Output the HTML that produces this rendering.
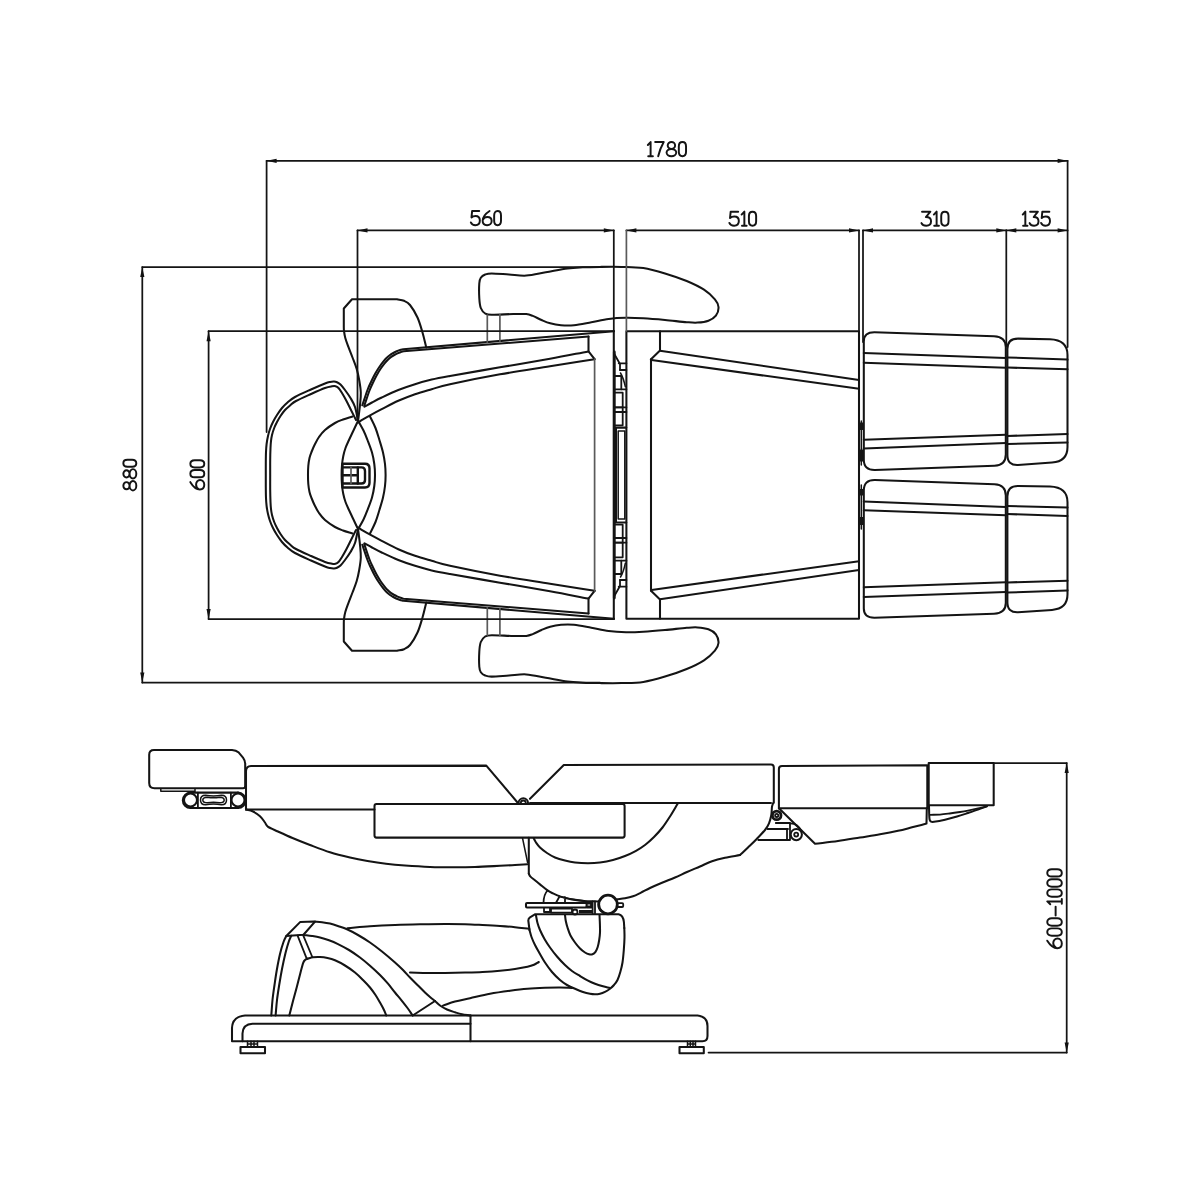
<!DOCTYPE html>
<html><head><meta charset="utf-8"><title>Chair dimensions</title>
<style>
html,body{margin:0;padding:0;background:#fff;}
body{width:1200px;height:1200px;overflow:hidden;font-family:"Liberation Sans",sans-serif;}
svg{display:block}
.l path{fill:none;stroke:#141414;stroke-width:2.05;stroke-linecap:round;stroke-linejoin:round}
.l path.t{stroke-width:1.5}
.l path.d{stroke-width:1.75}
.l path.g{stroke:#5a5a5a;stroke-width:1.7}
.l path.m{stroke-width:1.8}
.l path.k2{stroke-width:2.4}
.l path.kk2{stroke-width:3.2;stroke-linecap:butt}
.l path.k{stroke-width:2.8}
.l path.kk{stroke-width:3.6;stroke-linecap:butt}
.l path.a{fill:#111;stroke:none}
.tx path{fill:none;stroke:#141414;stroke-width:1.95;stroke-linecap:round;stroke-linejoin:round;vector-effect:non-scaling-stroke}
</style></head><body>
<svg width="1200" height="1200" viewBox="0 0 1200 1200">
<rect width="1200" height="1200" fill="#fff"/>
<g class="l">
<path d="M358 420.8 C357 416.2 356.25 410.8 355 407 C353.75 403.2 352.17 400.83 350.5 398 C348.83 395.17 346.67 392.25 345 390 C343.33 387.75 341.83 385.8 340.5 384.5 C339.17 383.2 338.08 382.7 337 382.2 C335.92 381.7 335.17 381.55 334 381.5 C332.83 381.45 331.5 381.57 330 381.9 C328.5 382.23 328.17 382.23 325 383.5 C321.83 384.77 316 387.25 311 389.5 C306 391.75 298.92 394.83 295 397 C291.08 399.17 289.67 400.67 287.5 402.5 C285.33 404.33 283.75 405.92 282 408 C280.25 410.08 278.5 412.67 277 415 C275.5 417.33 274.17 419.67 273 422 C271.83 424.33 270.83 426.67 270 429 C269.17 431.33 268.57 433.5 268 436 C267.43 438.5 266.93 441.33 266.6 444 C266.27 446.67 266.13 448.83 266 452 C265.87 455.17 265.83 459.17 265.8 463 C265.77 466.83 265.8 471 265.8 475 C265.8 479 265.77 483.17 265.8 487 C265.83 490.83 265.87 494.83 266 498 C266.13 501.17 266.27 503.33 266.6 506 C266.93 508.67 267.43 511.5 268 514 C268.57 516.5 269.17 518.67 270 521 C270.83 523.33 271.83 525.67 273 528 C274.17 530.33 275.5 532.67 277 535 C278.5 537.33 280.25 539.92 282 542 C283.75 544.08 285.33 545.67 287.5 547.5 C289.67 549.33 291.08 550.83 295 553 C298.92 555.17 306 558.25 311 560.5 C316 562.75 321.83 565.23 325 566.5 C328.17 567.77 328.5 567.77 330 568.1 C331.5 568.43 332.83 568.55 334 568.5 C335.17 568.45 335.92 568.3 337 567.8 C338.08 567.3 339.17 566.8 340.5 565.5 C341.83 564.2 343.33 562.25 345 560 C346.67 557.75 348.83 554.83 350.5 552 C352.17 549.17 353.75 546.8 355 543 C356.25 539.2 357 533.8 358 529.2"/>
<path d="M356 420 C354.33 416.67 352.58 413.17 351 410 C349.42 406.83 348 403.83 346.5 401 C345 398.17 343.33 395.17 342 393 C340.67 390.83 339.58 389.13 338.5 388 C337.42 386.87 336.58 386.48 335.5 386.2 C334.42 385.92 333.75 386 332 386.3 C330.25 386.6 328.5 386.72 325 388 C321.5 389.28 315.83 391.83 311 394 C306.17 396.17 299.5 399.08 296 401 C292.5 402.92 291.83 404 290 405.5 C288.17 407 286.58 408.25 285 410 C283.42 411.75 281.83 414 280.5 416 C279.17 418 278.05 420 277 422 C275.95 424 275.03 425.83 274.2 428 C273.37 430.17 272.53 432.83 272 435 C271.47 437.17 271.25 438.83 271 441 C270.75 443.17 270.63 444.83 270.5 448 C270.37 451.17 270.25 455.5 270.2 460 C270.15 464.5 270.2 470 270.2 475 C270.2 480 270.15 485.5 270.2 490 C270.25 494.5 270.37 498.83 270.5 502 C270.63 505.17 270.75 506.83 271 509 C271.25 511.17 271.47 512.83 272 515 C272.53 517.17 273.37 519.83 274.2 522 C275.03 524.17 275.95 526 277 528 C278.05 530 279.17 532 280.5 534 C281.83 536 283.42 538.25 285 540 C286.58 541.75 288.17 543 290 544.5 C291.83 546 292.5 547.08 296 549 C299.5 550.92 306.17 553.83 311 556 C315.83 558.17 321.5 560.72 325 562 C328.5 563.28 330.25 563.4 332 563.7 C333.75 564 334.42 564.08 335.5 563.8 C336.58 563.52 337.42 563.13 338.5 562 C339.58 560.87 340.67 559.17 342 557 C343.33 554.83 345 551.83 346.5 549 C348 546.17 349.42 543.17 351 540 C352.58 536.83 354.33 533.33 356 530"/>
<path d="M352.5 416.5 C349.33 417.5 345.92 418.42 343 419.5 C340.08 420.58 338 421.25 335 423 C332 424.75 327.67 427.67 325 430 C322.33 432.33 320.67 434.67 319 437 C317.33 439.33 316.25 441.5 315 444 C313.75 446.5 312.42 449.67 311.5 452 C310.58 454.33 310.03 455.67 309.5 458 C308.97 460.33 308.55 463.17 308.3 466 C308.05 468.83 308 472 308 475 C308 478 308.05 481.17 308.3 484 C308.55 486.83 308.97 489.67 309.5 492 C310.03 494.33 310.58 495.67 311.5 498 C312.42 500.33 313.75 503.5 315 506 C316.25 508.5 317.33 510.67 319 513 C320.67 515.33 322.33 517.67 325 520 C327.67 522.33 332 525.25 335 527 C338 528.75 340.08 529.42 343 530.5 C345.92 531.58 349.33 532.5 352.5 533.5"/>
<path d="M358 421 C356.33 424.5 354.5 428.33 353 431.5 C351.5 434.67 350.25 437.25 349 440 C347.75 442.75 346.45 445.33 345.5 448 C344.55 450.67 343.88 453.17 343.3 456 C342.72 458.83 342.28 461.83 342 465 C341.72 468.17 341.6 471.67 341.6 475 C341.6 478.33 341.72 481.83 342 485 C342.28 488.17 342.72 491.17 343.3 494 C343.88 496.83 344.55 499.33 345.5 502 C346.45 504.67 347.75 507.25 349 510 C350.25 512.75 351.5 515.33 353 518.5 C354.5 521.67 356.33 525.5 358 529"/>
<path d="M358 420.6 C359.83 423.9 361.92 427.27 363.5 430.5 C365.08 433.73 366.08 436.33 367.5 440 C368.92 443.67 370.87 448.5 372 452.5 C373.13 456.5 373.8 460.25 374.3 464 C374.8 467.75 375 471.33 375 475 C375 478.67 374.8 482.25 374.3 486 C373.8 489.75 373.13 493.5 372 497.5 C370.87 501.5 368.92 506.33 367.5 510 C366.08 513.67 365.08 516.27 363.5 519.5 C361.92 522.73 359.83 526.1 358 529.4"/>
<path d="M370 416.5 C371.83 420.33 373.93 424.08 375.5 428 C377.07 431.92 378.15 435.92 379.4 440 C380.65 444.08 382.07 448.5 383 452.5 C383.93 456.5 384.57 460.25 385 464 C385.43 467.75 385.6 471.33 385.6 475 C385.6 478.67 385.43 482.25 385 486 C384.57 489.75 383.93 493.5 383 497.5 C382.07 501.5 380.65 505.92 379.4 510 C378.15 514.08 377.07 518.08 375.5 522 C373.93 525.92 371.83 529.67 370 533.5"/>
<path d="M342.5 463.8 H365 Q369.5 463.8 369.5 468.5 V482.8 Q369.5 487.5 365 487.5 H342.5 Z" class="k2"/>
<path d="M342.5 467.4 H361.5 Q365 467.4 365 470.9 V480 Q365 483.5 361.5 483.5 H342.5" class="k2"/>
<path d="M357.8 467.4 V483.5 M342.5 475.3 H357.8" class="k2"/>
<path d="M351 467.4 V483.5" class="g"/>
<path d="M358 421.5 C358.67 416 359.53 409.83 360 405 C360.47 400.17 360.93 396.67 360.8 392.5 C360.67 388.33 359.88 383.92 359.2 380 C358.52 376.08 357.82 372.75 356.7 369 C355.58 365.25 353.9 361.22 352.5 357.5 C351.1 353.78 349.5 349.95 348.3 346.7 C347.1 343.45 346.02 340.62 345.3 338 C344.58 335.38 344.25 332.83 344 331 C343.75 329.17 343.87 328.33 343.8 327 L343.8 308.5 L352 299.3 L397 299.3 C399.33 299.8 401.83 299.85 404 300.8 C406.17 301.75 407.75 302.22 410 305 C412.25 307.78 415.42 312.92 417.5 317.5 C419.58 322.08 421.03 327.5 422.5 332.5 C423.97 337.5 425.03 342.5 426.3 347.5"/>
<path d="M358 528.5 C358.67 534 359.53 540.17 360 545 C360.47 549.83 360.93 553.33 360.8 557.5 C360.67 561.67 359.88 566.08 359.2 570 C358.52 573.92 357.82 577.25 356.7 581 C355.58 584.75 353.9 588.78 352.5 592.5 C351.1 596.22 349.5 600.05 348.3 603.3 C347.1 606.55 346.02 609.38 345.3 612 C344.58 614.62 344.25 617.17 344 619 C343.75 620.83 343.87 621.67 343.8 623 L343.8 641.5 L352 650.7 L397 650.7 C399.33 650.2 401.83 650.15 404 649.2 C406.17 648.25 407.75 647.78 410 645 C412.25 642.22 415.42 637.08 417.5 632.5 C419.58 627.92 421.03 622.5 422.5 617.5 C423.97 612.5 425.03 607.5 426.3 602.5"/>
<path d="M362.3 405.3 C364.03 400.2 366.05 393.88 367.5 390 C368.95 386.12 369.75 384.67 371 382 C372.25 379.33 373.67 376.42 375 374 C376.33 371.58 377.62 369.55 379 367.5 C380.38 365.45 382.05 363.28 383.3 361.7 C384.55 360.12 385.38 359.12 386.5 358 C387.62 356.88 388.87 355.83 390 355 C391.13 354.17 392.18 353.62 393.3 353 C394.42 352.38 395.58 351.78 396.7 351.3 C397.82 350.82 398.9 350.45 400 350.1 C401.1 349.75 402.2 349.5 403.3 349.2 L614 331.3"/>
<path d="M362.3 544.7 C364.03 549.8 366.05 556.12 367.5 560 C368.95 563.88 369.75 565.33 371 568 C372.25 570.67 373.67 573.58 375 576 C376.33 578.42 377.62 580.45 379 582.5 C380.38 584.55 382.05 586.72 383.3 588.3 C384.55 589.88 385.38 590.88 386.5 592 C387.62 593.12 388.87 594.17 390 595 C391.13 595.83 392.18 596.38 393.3 597 C394.42 597.62 395.58 598.22 396.7 598.7 C397.82 599.18 398.9 599.55 400 599.9 C401.1 600.25 402.2 600.5 403.3 600.8 L614 618.7"/>
<path d="M364.3 405.8 C365.97 400.87 367.88 394.8 369.3 391 C370.72 387.2 371.57 385.63 372.8 383 C374.03 380.37 375.4 377.57 376.7 375.2 C378 372.83 379.25 370.8 380.6 368.8 C381.95 366.8 383.58 364.72 384.8 363.2 C386.02 361.68 386.83 360.75 387.9 359.7 C388.97 358.65 390.13 357.68 391.2 356.9 C392.27 356.12 393.25 355.58 394.3 355 C395.35 354.42 396.45 353.87 397.5 353.4 C398.55 352.93 399.58 352.55 400.6 352.2 C401.62 351.85 402.6 351.6 403.6 351.3 L588.5 336.6"/>
<path d="M364.3 544.2 C365.97 549.13 367.88 555.2 369.3 559 C370.72 562.8 371.57 564.37 372.8 567 C374.03 569.63 375.4 572.43 376.7 574.8 C378 577.17 379.25 579.2 380.6 581.2 C381.95 583.2 383.58 585.28 384.8 586.8 C386.02 588.32 386.83 589.25 387.9 590.3 C388.97 591.35 390.13 592.32 391.2 593.1 C392.27 593.88 393.25 594.42 394.3 595 C395.35 595.58 396.45 596.13 397.5 596.6 C398.55 597.07 399.58 597.45 400.6 597.8 C401.62 598.15 402.6 598.4 403.6 598.7 L588.5 613.4"/>
<path d="M364.5 406.7 C367 405.3 369.13 404.03 372 402.5 C374.87 400.97 377.32 399.58 381.7 397.5 C386.08 395.42 392.75 392.22 398.3 390 C403.85 387.78 409.43 385.93 415 384.2 C420.57 382.47 425.87 380.97 431.7 379.6 C437.53 378.23 438.62 378.05 450 376 C461.38 373.95 483.33 370.18 500 367.3 C516.67 364.42 535.25 361.35 550 358.7 C564.75 356.05 575.67 353.83 588.5 351.4"/>
<path d="M364.5 543.3 C367 544.7 369.13 545.97 372 547.5 C374.87 549.03 377.32 550.42 381.7 552.5 C386.08 554.58 392.75 557.78 398.3 560 C403.85 562.22 409.43 564.07 415 565.8 C420.57 567.53 425.87 569.03 431.7 570.4 C437.53 571.77 438.62 571.95 450 574 C461.38 576.05 483.33 579.82 500 582.7 C516.67 585.58 535.25 588.65 550 591.3 C564.75 593.95 575.67 596.17 588.5 598.6"/>
<path d="M358.3 422.3 C359.87 421.3 361.18 420.38 363 419.3 C364.82 418.22 366.08 417.48 369.2 415.8 C372.32 414.12 376.85 411.7 381.7 409.2 C386.55 406.7 392.75 403.3 398.3 400.8 C403.85 398.3 409.43 396.13 415 394.2 C420.57 392.27 425.87 390.87 431.7 389.2 C437.53 387.53 438.62 386.68 450 384.2 C461.38 381.72 483.33 377.28 500 374.3 C516.67 371.32 534.23 368.82 550 366.3 C565.77 363.78 579.73 361.57 594.6 359.2"/>
<path d="M358.3 527.7 C359.87 528.7 361.18 529.62 363 530.7 C364.82 531.78 366.08 532.52 369.2 534.2 C372.32 535.88 376.85 538.3 381.7 540.8 C386.55 543.3 392.75 546.7 398.3 549.2 C403.85 551.7 409.43 553.87 415 555.8 C420.57 557.73 425.87 559.13 431.7 560.8 C437.53 562.47 438.62 563.32 450 565.8 C461.38 568.28 483.33 572.72 500 575.7 C516.67 578.68 534.23 581.18 550 583.7 C565.77 586.22 579.73 588.43 594.6 590.8"/>
<path d="M588.5 336.6 L588.5 351.4 L594.6 359.2"/>
<path d="M588.5 613.4 L588.5 598.6 L594.6 590.8"/>
<path d="M594.6 359.2 L594.6 590.8" class="g"/>
<path d="M613.8 331.2 L613.8 618.8"/>
<path d="M600 266.9 C606.5 266.83 614.48 266.72 621.7 266.9 C628.92 267.08 636.08 266.92 643.3 268 C650.52 269.08 657.77 271.23 665 273.4 C672.23 275.57 680.2 278.28 686.7 281 C693.2 283.72 699.3 286.63 704 289.7 C708.7 292.77 712.48 296.52 714.9 299.4 C717.32 302.28 718.33 304.28 718.5 307 C718.67 309.72 717.58 313.42 715.9 315.7 C714.22 317.98 711.47 319.55 708.4 320.7 C705.33 321.85 701.12 322.35 697.5 322.6 C693.88 322.85 692.12 322.63 686.7 322.2 C681.28 321.77 672.23 320.65 665 320 C657.77 319.35 649.8 318.67 643.3 318.3 C636.8 317.93 631.77 317.7 626 317.8 C620.23 317.9 614.48 318.17 608.7 318.9 C602.92 319.63 597.08 321.15 591.3 322.2 C585.52 323.25 579.05 324.7 574 325.2 C568.95 325.7 564.97 325.52 561 325.2 C557.03 324.88 553.45 324.17 550.2 323.3 C546.95 322.43 544.4 321.23 541.5 320 C538.6 318.77 535.33 316.88 532.8 315.9 C530.27 314.92 529.55 314.42 526.3 314.1 C523.05 313.78 519.07 313.88 513.3 314 C507.53 314.12 496.38 314.88 491.7 314.8 C487.02 314.72 487.02 314.63 485.2 313.5 C483.38 312.37 481.78 310.53 480.8 308 C479.82 305.47 479.55 302.43 479.3 298.3 C479.05 294.17 479.05 286.62 479.3 283.2 C479.55 279.78 479.82 279.25 480.8 277.8 C481.78 276.35 483.38 275.23 485.2 274.5 C487.02 273.77 487.73 273.4 491.7 273.4 C495.67 273.4 503.23 274.13 509 274.5 C514.77 274.87 520.17 275.97 526.3 275.6 C532.43 275.23 538.93 273.5 545.8 272.3 C552.67 271.1 561.35 269.23 567.5 268.4 C573.65 267.57 577.28 267.55 582.7 267.3 C588.12 267.05 593.5 266.97 600 266.9 Z"/>
<path d="M600 683.1 C606.5 683.17 614.48 683.28 621.7 683.1 C628.92 682.92 636.08 683.08 643.3 682 C650.52 680.92 657.77 678.77 665 676.6 C672.23 674.43 680.2 671.72 686.7 669 C693.2 666.28 699.3 663.37 704 660.3 C708.7 657.23 712.48 653.48 714.9 650.6 C717.32 647.72 718.33 645.72 718.5 643 C718.67 640.28 717.58 636.58 715.9 634.3 C714.22 632.02 711.47 630.45 708.4 629.3 C705.33 628.15 701.12 627.65 697.5 627.4 C693.88 627.15 692.12 627.37 686.7 627.8 C681.28 628.23 672.23 629.35 665 630 C657.77 630.65 649.8 631.33 643.3 631.7 C636.8 632.07 631.77 632.3 626 632.2 C620.23 632.1 614.48 631.83 608.7 631.1 C602.92 630.37 597.08 628.85 591.3 627.8 C585.52 626.75 579.05 625.3 574 624.8 C568.95 624.3 564.97 624.48 561 624.8 C557.03 625.12 553.45 625.83 550.2 626.7 C546.95 627.57 544.4 628.77 541.5 630 C538.6 631.23 535.33 633.12 532.8 634.1 C530.27 635.08 529.55 635.58 526.3 635.9 C523.05 636.22 519.07 636.12 513.3 636 C507.53 635.88 496.38 635.12 491.7 635.2 C487.02 635.28 487.02 635.37 485.2 636.5 C483.38 637.63 481.78 639.47 480.8 642 C479.82 644.53 479.55 647.57 479.3 651.7 C479.05 655.83 479.05 663.38 479.3 666.8 C479.55 670.22 479.82 670.75 480.8 672.2 C481.78 673.65 483.38 674.77 485.2 675.5 C487.02 676.23 487.73 676.6 491.7 676.6 C495.67 676.6 503.23 675.87 509 675.5 C514.77 675.13 520.17 674.03 526.3 674.4 C532.43 674.77 538.93 676.5 545.8 677.7 C552.67 678.9 561.35 680.77 567.5 681.6 C573.65 682.43 577.28 682.45 582.7 682.7 C588.12 682.95 593.5 683.03 600 683.1 Z"/>
<path d="M487.3 315 L487.3 342.5" class="g"/>
<path d="M487.3 635 L487.3 607.5" class="g"/>
<path d="M499.9 314.5 L499.9 341.5" class="g"/>
<path d="M499.9 635.5 L499.9 608.5" class="g"/>
<path d="M626.4 331.2 L859 331.2 L859 618.8 L626.4 618.8 L626.4 331.2"/>
<path d="M660 331.2 L660 350.6 L651 359.3"/>
<path d="M660 618.8 L660 599.4 L651 590.7"/>
<path d="M651 359.3 L651 590.7"/>
<path d="M660 350.8 L859 380"/>
<path d="M660 599.2 L859 570"/>
<path d="M651.5 360 L859 388.8"/>
<path d="M651.5 590 L859 561.2"/>
<path d="M615.4 427.6 V522.4" class="kk2"/>
<path d="M614.7 427.6 H626.3 M614.7 522.4 H626.3"/>
<path d="M618.2 431 H624.8 V519 H618.2 Z" class="t"/>
<path d="M614.3 352 L614.3 598" class="k"/>
<path d="M614.3 354 L620 364 V370" class="m"/>
<path d="M 614.3 596 L 620 586 V 580" class="m"/>
<path d="M618.7 363.3 H626.4 M620 370 H626.4" class="m"/>
<path d="M 618.7 586.7 H 626.4 M 620 580 H 626.4" class="m"/>
<path d="M620.5 373 Q623.5 378 625.3 386.7" class="t"/>
<path d="M620.5 577 Q623.5 572 625.3 563.3" class="t"/>
<path d="M614.7 376 H621.3 V389.3" class="m"/>
<path d="M 614.7 574 H 621.3 V 560.7" class="m"/>
<path d="M614.7 389.3 H626.4" class="m"/>
<path d="M 614.7 560.7 H 626.4" class="m"/>
<path d="M614.7 392.7 H622.7 V407.3 H614.7" class="m"/>
<path d="M 614.7 557.3 H 622.7 V 542.7 H 614.7" class="m"/>
<path d="M614.7 407.3 H626.4 M614.7 412 H626.4" class="m"/>
<path d="M 614.7 542.7 H 626.4 M 614.7 538 H 626.4" class="m"/>
<path d="M614.7 412 H622.7 V425.3 H614.7 M622.7 407.3 V412" class="m"/>
<path d="M 614.7 538 H 622.7 V 524.7 H 614.7 M 622.7 542.7 V 538" class="m"/>
<path d="M863.8 341.5 Q863.8 332.2 874.5 332.3 L994 336.2 Q1005.8 336.8 1005.8 347 L1005.8 454.5 Q1005.8 465.2 994.5 465.8 L875 470 Q863.8 470.3 863.8 459.5 Z"/>
<path d="M 863.8 608.5 Q 863.8 617.8 874.5 617.7 L 994 613.8 Q 1005.8 613.2 1005.8 603 L 1005.8 495.5 Q 1005.8 484.8 994.5 484.2 L 875 480 Q 863.8 479.7 863.8 490.5 Z"/>
<path d="M1007.4 349 Q1007.4 338.6 1018 338.6 L1050 339.3 Q1067.5 340 1067.5 355 L1067.5 447 Q1067.5 461.5 1052 462.6 L1018 465 Q1007.4 465.5 1007.4 455 Z"/>
<path d="M 1007.4 496.3 Q 1007.4 485.9 1018 485.9 L 1050 486.6 Q 1067.5 487.3 1067.5 502.3 L 1067.5 594.3 Q 1067.5 608.8 1052 609.9 L 1018 612.3 Q 1007.4 612.8 1007.4 602.3 Z"/>
<path d="M863.8 353 L1005.8 358"/>
<path d="M863.8 597 L1005.8 592"/>
<path d="M863.8 362.8 L1005.8 367.8"/>
<path d="M863.8 587.2 L1005.8 582.2"/>
<path d="M863.8 439.8 L1005.8 434.8"/>
<path d="M863.8 510.2 L1005.8 515.2"/>
<path d="M863.8 448.4 L1005.8 443"/>
<path d="M863.8 501.6 L1005.8 507"/>
<path d="M1007.4 357.4 L1067.5 359.6"/>
<path d="M1007.4 592.6 L1067.5 590.4"/>
<path d="M1007.4 367.6 L1067.5 369.3"/>
<path d="M1007.4 582.4 L1067.5 580.7"/>
<path d="M1007.4 436 L1067.5 434"/>
<path d="M1007.4 514 L1067.5 516"/>
<path d="M1007.4 444 L1067.5 442.6"/>
<path d="M1007.4 506 L1067.5 507.4"/>
<path d="M861.3 421 L861.3 465" class="t"/>
<path d="M861.3 529 L861.3 485" class="t"/>
<path d="M861.2 422.5 L861.2 430" class="kk"/>
<path d="M861.2 449.5 L861.2 461.5" class="kk"/>
<path d="M861.2 489 L861.2 495.5" class="kk"/>
<path d="M861.2 517 L861.2 525" class="kk"/>
<path d="M154 749.9 H232 Q236 750 238.8 752.6 L243 757.6 Q245.2 760.4 245.2 764 V786 Q245.2 788.2 243 788.2 H154.5 Q149.2 788.2 149.2 783 V754.7 Q149.2 749.9 154 749.9 Z"/>
<path d="M160.8 789 V791.3 H195 M195 789 V792.6" class="t"/>
<path d="M197.9 792.6 V808 M230.9 792.6 V808" class="m"/>
<path d="M207.5 797.2 Q213.5 798.4 219.5 797.2 Q224.2 797.2 224.2 800 Q224.2 802.8 219.5 802.8 Q213.5 801.6 207.5 802.8 Q202.8 802.8 202.8 800 Q202.8 797.2 207.5 797.2 Z" class="t"/>
<path d="M190.5 792.6 H238 M190.5 808 H238"/>
<path d="M190.5 792.6 A7.7 7.7 0 0 0 190.5 808 M238 792.6 A7.7 7.7 0 0 1 238 808"/>
<path d="M197 800 A6.5 6.5 0 1 1 184 800 A6.5 6.5 0 1 1 197 800 Z"/>
<path d="M244.5 800 A6.5 6.5 0 1 1 231.5 800 A6.5 6.5 0 1 1 244.5 800 Z"/>
<path d="M205.5 795.2 Q213.5 796.6 221.5 795.2 Q226.5 795.2 226.5 800 Q226.5 804.8 221.5 804.8 Q213.5 803.4 205.5 804.8 Q200.5 804.8 200.5 800 Q200.5 795.2 205.5 795.2 Z" class="t"/>
<path d="M246 809.4 V771 Q246.3 766.2 251 766 L486.3 765.6 L517.5 802.5"/>
<path d="M246 809.4 H374.5"/>
<path d="M246 809.6 C248.17 810.17 250.17 810.2 252.5 811.3 C254.83 812.4 257.92 814.33 260 816.2 C262.08 818.07 263.7 820.77 265 822.5 C266.3 824.23 265.63 825.1 267.8 826.6 C269.97 828.1 273.88 829.6 278 831.5 C282.12 833.4 287.17 835.75 292.5 838 C297.83 840.25 303.75 842.62 310 845 C316.25 847.38 323.33 850.22 330 852.3 C336.67 854.38 343.75 856.05 350 857.5 C356.25 858.95 361.5 859.95 367.5 861 C373.5 862.05 379.75 863.03 386 863.8 C392.25 864.57 397.67 865.07 405 865.6 C412.33 866.13 421.67 866.72 430 867 C438.33 867.28 447.5 867.3 455 867.3 C462.5 867.3 467.5 867.25 475 867 C482.5 866.75 493.33 866.13 500 865.8 C506.67 865.47 510.42 865.25 515 865 C519.58 864.75 523.33 864.53 527.5 864.3"/>
<path d="M530 798.8 L563.8 765 L771 764.5 Q773.8 764.5 773.8 767.5 V802.8"/>
<path d="M530 803 H771"/>
<path d="M518.6 803 A4.7 4.7 0 0 1 528 803"/>
<path d="M520.8 803 A2.5 2.5 0 0 1 525.8 803" class="m"/>
<path d="M376.5 804 H622.5 Q624.6 804 624.6 806 V835.5 Q624.6 837.6 622.5 837.6 H376.5 Q374.5 837.6 374.5 835.5 V806 Q374.5 804 376.5 804 Z"/>
<path d="M522.5 838 L527.6 862.5" class="t"/>
<path d="M528.8 837.8 V873.8"/>
<path d="M528.8 873.8 C529.37 874.73 529.47 875.52 530.5 876.6 C531.53 877.68 533.42 879 535 880.3 C536.58 881.6 537.92 882.72 540 884.4 C542.08 886.08 545.33 888.9 547.5 890.4 C549.67 891.9 550.92 892.4 553 893.4 C555.08 894.4 557.72 895.58 560 896.4 C562.28 897.22 564.7 897.78 566.7 898.3 C568.7 898.82 569.12 899.05 572 899.5 C574.88 899.95 579.58 900.68 584 901 C588.42 901.32 593.67 901.27 598.5 901.4"/>
<path d="M617 899.3 C619.67 898.97 622.33 898.8 625 898.3 C627.67 897.8 630.33 897.25 633 896.3 C635.67 895.35 638.17 893.98 641 892.6 C643.83 891.22 646.5 889.65 650 888 C653.5 886.35 657.83 884.45 662 882.7 C666.17 880.95 670.83 879.28 675 877.5 C679.17 875.72 682.83 873.83 687 872 C691.17 870.17 695.83 868.28 700 866.5 C704.17 864.72 707.83 862.75 712 861.3 C716.17 859.85 720.33 858.85 725 857.8 C729.67 856.75 735 855.93 740 855"/>
<path d="M773.2 803 C772.8 804.23 772.32 804.7 772 806.7 C771.68 808.7 771.8 812.23 771.3 815 C770.8 817.77 770.05 820.8 769 823.3 C767.95 825.8 767.05 827.38 765 830 C762.95 832.62 759.53 836.08 756.7 839 C753.87 841.92 750.78 844.83 748 847.5 C745.22 850.17 742.67 852.5 740 855"/>
<path d="M533.8 838.5 C534.53 839.83 534.97 841 536 842.5 C537.03 844 538.17 845.75 540 847.5 C541.83 849.25 544.5 851.33 547 853 C549.5 854.67 552 856.23 555 857.5 C558 858.77 561.67 859.77 565 860.6 C568.33 861.43 571.17 862.07 575 862.5 C578.83 862.93 583.83 863.2 588 863.2 C592.17 863.2 595.83 863.03 600 862.5 C604.17 861.97 608.83 861.08 613 860 C617.17 858.92 621.17 857.53 625 856 C628.83 854.47 632.67 852.63 636 850.8 C639.33 848.97 642 847.3 645 845 C648 842.7 651.08 839.92 654 837 C656.92 834.08 659.83 830.92 662.5 827.5 C665.17 824.08 667.45 820.5 670 816.5 C672.55 812.5 675.2 807.83 677.8 803.5"/>
<path d="M527 903 H585.7 Q586.6 903 586.6 904 V906.5 Q586.6 907.5 585.7 907.5 H527 Q526 907.5 526 906.5 V904 Q526 903 527 903 Z"/>
<path d="M617.3 904.5 A9.3 9.3 0 1 1 598.7 904.5 A9.3 9.3 0 1 1 617.3 904.5 Z" class="k"/>
<path d="M601.3 898.3 A8.6 8.6 0 0 0 601.6 911" class="m"/>
<path d="M617.3 903.2 H622.2 Q623.2 903.2 623.2 904.2 V906 Q623.2 907 622.2 907 H617.3" class="m"/>
<path d="M544 908 V912 H550 V908 M551 908.6 H572 V912.6 H551 Z" class="m"/>
<path d="M577.5 912 A2.5 2.5 0 1 1 572.5 912 A2.5 2.5 0 1 1 577.5 912 Z" class="m"/>
<path d="M579 911.6 H592" class="kk2"/>
<path d="M592.6 901.5 V913.6 M595 901.5 V913.6" class="m"/>
<path d="M587 903 H591.5 V907 H587" class="k"/>
<path d="M547.5 890.5 Q543.7 894.5 543.5 902.8 M559.5 896.5 L556 902.8 M565 897.2 V902.8 M559.5 896.5 Q572 899.6 584 901" class="m"/>
<path d="M529.5 930 C530.17 932.33 530.58 934.5 531.5 937 C532.42 939.5 533.58 942.17 535 945 C536.42 947.83 538.33 951.08 540 954 C541.67 956.92 543 959.5 545 962.5 C547 965.5 549.5 969.08 552 972 C554.5 974.92 557.5 977.83 560 980 C562.5 982.17 564.5 983.53 567 985 C569.5 986.47 572.33 987.63 575 988.8 C577.67 989.97 580.5 991.17 583 992 C585.5 992.83 588 993.42 590 993.8 C592 994.18 593.33 994.32 595 994.3 C596.67 994.28 598.33 994.12 600 993.7 C601.67 993.28 603.33 992.63 605 991.8 C606.67 990.97 608.5 989.83 610 988.7 C611.5 987.57 612.75 986.45 614 985 C615.25 983.55 616.45 982.17 617.5 980 C618.55 977.83 619.47 974.92 620.3 972 C621.13 969.08 621.92 966.17 622.5 962.5 C623.08 958.83 623.47 954.17 623.8 950 C624.13 945.83 624.42 941.17 624.5 937.5 C624.58 933.83 624.37 931.17 624.3 928"/>
<path d="M529.5 930 L528.3 920.5 Q528.3 918.4 530 917.3 L535.3 914.2 H618.6 Q623.3 915.3 623.9 922 L624.3 928"/>
<path d="M536 915.5 C536.5 918 536.83 920.58 537.5 923 C538.17 925.42 538.83 927.33 540 930 C541.17 932.67 542.83 936.08 544.5 939 C546.17 941.92 547.92 944.58 550 947.5 C552.08 950.42 554.5 953.58 557 956.5 C559.5 959.42 562.5 962.58 565 965 C567.5 967.42 569.5 969.17 572 971 C574.5 972.83 577.42 974.45 580 976 C582.58 977.55 585 979.02 587.5 980.3 C590 981.58 592.42 982.7 595 983.7 C597.58 984.7 600.5 985.58 603 986.3 C605.5 987.02 607.67 987.43 610 988"/>
<path d="M565 915 C565.27 917 565.38 918.92 565.8 921 C566.22 923.08 566.72 925.08 567.5 927.5 C568.28 929.92 569.25 933 570.5 935.5 C571.75 938 573.42 940.33 575 942.5 C576.58 944.67 578.33 946.83 580 948.5 C581.67 950.17 583.5 951.53 585 952.5 C586.5 953.47 587.75 954 589 954.3 C590.25 954.6 591.42 954.72 592.5 954.3 C593.58 953.88 594.63 953.02 595.5 951.8 C596.37 950.58 597.08 948.97 597.7 947 C598.32 945.03 598.82 942.42 599.2 940 C599.58 937.58 599.88 935.17 600 932.5 C600.12 929.83 599.98 926.92 599.9 924 C599.82 921.08 599.63 918 599.5 915"/>
<path d="M347.5 928.2 C355 927.57 362.08 926.83 370 926.3 C377.92 925.77 386.67 925.33 395 925 C403.33 924.67 411.67 924.47 420 924.3 C428.33 924.13 437.5 924.02 445 924 C452.5 923.98 458.75 924.03 465 924.2 C471.25 924.37 476.67 924.7 482.5 925 C488.33 925.3 494.58 925.63 500 926 C505.42 926.37 510.12 926.73 515 927.2 C519.88 927.67 524.53 928.27 529.3 928.8"/>
<path d="M410 972.6 C416 972.73 422.17 972.93 428 973 C433.83 973.07 438.83 973.07 445 973 C451.17 972.93 458.75 972.77 465 972.6 C471.25 972.43 476.67 972.3 482.5 972 C488.33 971.7 494.58 971.3 500 970.8 C505.42 970.3 510.42 969.67 515 969 C519.58 968.33 524.33 967.5 527.5 966.8 C530.67 966.1 532.12 965.6 534 964.8 C535.88 964 537.2 962.93 538.8 962"/>
<path d="M435 1001 C436.67 1002.5 438 1004.08 440 1005.5 C442 1006.92 444.5 1008.37 447 1009.5 C449.5 1010.63 452.5 1011.5 455 1012.3 C457.5 1013.1 459.42 1013.77 462 1014.3 C464.58 1014.83 467.67 1015.1 470.5 1015.5"/>
<path d="M443 1005.6 C447 1004.23 450.5 1002.73 455 1001.5 C459.5 1000.27 464.17 999.48 470 998.2 C475.83 996.92 483.33 995.03 490 993.8 C496.67 992.57 503.75 991.63 510 990.8 C516.25 989.97 521.67 989.3 527.5 988.8 C533.33 988.3 539.58 988.02 545 987.8 C550.42 987.58 555.5 987.47 560 987.5 C564.5 987.53 568 987.83 572 988"/>
<path d="M271.3 1015.5 C271.7 1010.33 271.97 1005.08 272.5 1000 C273.03 994.92 273.78 990 274.5 985 C275.22 980 275.88 975.17 276.8 970 C277.72 964.83 278.88 958.67 280 954 C281.12 949.33 282.45 945 283.5 942 C284.55 939 285.37 938 286.3 936 L300.3 921.9 L314 921.5 C316.67 921.73 319.33 921.85 322 922.2 C324.67 922.55 327.25 922.93 330 923.6 C332.75 924.27 335.67 925.25 338.5 926.2 C341.33 927.15 343.75 927.83 347 929.3 C350.25 930.77 354.17 932.8 358 935 C361.83 937.2 366 939.75 370 942.5 C374 945.25 377.83 948.17 382 951.5 C386.17 954.83 391.5 959.42 395 962.5 C398.5 965.58 400.5 967.5 403 970 C405.5 972.5 407.5 974.92 410 977.5 C412.5 980.08 415.5 983 418 985.5 C420.5 988 423 990.58 425 992.5 C427 994.42 428.33 995.58 430 997 C431.67 998.42 433.33 999.67 435 1001"/>
<path d="M275.6 1015.5 C276.07 1010.33 276.4 1005.08 277 1000 C277.6 994.92 278.37 990.17 279.2 985 C280.03 979.83 280.95 974.33 282 969 C283.05 963.67 284.37 957.58 285.5 953 C286.63 948.42 287.85 944.37 288.8 941.5 C289.75 938.63 290.4 937.7 291.2 935.8"/>
<path d="M286.3 936 L303.5 934.7 L315 921.6"/>
<path d="M289.3 1015.5 C290.53 1010.67 291.75 1005.75 293 1001 C294.25 996.25 295.57 991.67 296.8 987 C298.03 982.33 299.33 977.03 300.4 973 C301.47 968.97 302.38 965 303.2 962.8 C304.02 960.6 304.55 960.5 305.3 959.8 C306.05 959.1 306.9 959 307.7 958.6"/>
<path d="M297.6 935.7 L306.8 958.8 M303 934.8 L312.3 957" class="m"/>
<path d="M307.5 958.8 C309.33 958.3 310.92 957.6 313 957.3 C315.08 957 317.58 956.88 320 957 C322.42 957.12 325 957.45 327.5 958 C330 958.55 332.08 959.05 335 960.3 C337.92 961.55 341.67 963.47 345 965.5 C348.33 967.53 352 970.08 355 972.5 C358 974.92 360.5 977.5 363 980 C365.5 982.5 367.92 985 370 987.5 C372.08 990 373.83 992.5 375.5 995 C377.17 997.5 378.67 1000.17 380 1002.5 C381.33 1004.83 382.45 1006.83 383.5 1009 C384.55 1011.17 385.37 1013.33 386.3 1015.5"/>
<path d="M303.8 935 C306.53 935.33 309.3 935.58 312 936 C314.7 936.42 317.17 936.78 320 937.5 C322.83 938.22 326.08 939.25 329 940.3 C331.92 941.35 334.17 942.18 337.5 943.8 C340.83 945.42 345.25 947.72 349 950 C352.75 952.28 356.5 954.88 360 957.5 C363.5 960.12 366.67 962.78 370 965.7 C373.33 968.62 377 972 380 975 C383 978 385.5 980.78 388 983.7 C390.5 986.62 392.75 989.73 395 992.5 C397.25 995.27 399.42 997.72 401.5 1000.3 C403.58 1002.88 405.63 1005.47 407.5 1008 C409.37 1010.53 410.97 1013 412.7 1015.5"/>
<path d="M412.7 1015.5 L435 1001"/>
<path d="M245 1015.5 H697.5 Q707.5 1016.5 707.5 1026 V1036 Q707.5 1041.2 702.5 1041.2 H232 V1028 Q232.5 1016.5 245 1015.5 Z"/>
<path d="M242.5 1041.2 V1033.5 Q243 1024.2 252.5 1023.8 H470.5"/>
<path d="M470.5 1015.5 V1041.2"/>
<path d="M240.5 1047 H265 V1053.3 H240.5 Z M679.5 1047 H703.8 V1053.3 H679.5 Z"/>
<path d="M247.5 1041.2 V1047 M257.5 1041.2 V1047 M251 1041.2 V1047 M254 1041.2 V1047 M247.5 1044 H257.5" class="t"/>
<path d="M687.5 1041.2 V1047 M695.5 1041.2 V1047 M690.3 1041.2 V1047 M693 1041.2 V1047 M687.5 1044 H695.5" class="t"/>
<path d="M778.9 808.5 V769 Q778.9 766 782 766 L927.3 765.2 V808.3"/>
<path d="M778.9 808.3 H927.3"/>
<path d="M779.2 808.5 L815 843.8 C822.67 842.87 830.5 842.05 838 841 C845.5 839.95 853 838.62 860 837.5 C867 836.38 873.67 835.42 880 834.3 C886.33 833.18 892.67 831.97 898 830.8 C903.33 829.63 907.25 828.5 912 827.3 C916.75 826.1 921.67 824.83 926.5 823.6 L926.8 808.3"/>
<path d="M928.7 763 H993.7 V805.3 H928.7 Z"/>
<path d="M929 806 C929.07 808.67 929.1 811.75 929.2 814 C929.3 816.25 929.3 818.23 929.6 819.5 C929.9 820.77 930.27 821.22 931 821.6 C931.73 821.98 931.67 822.1 934 821.8 C936.33 821.5 941.17 820.67 945 819.8 C948.83 818.93 953.17 817.73 957 816.6 C960.83 815.47 964.5 814.17 968 813 C971.5 811.83 974.83 810.72 978 809.6 C981.17 808.48 984 807.4 987 806.3"/>
<path d="M930.3 814.8 C933.53 814.73 936.77 814.82 940 814.6 C943.23 814.38 946.37 813.93 949.7 813.5 C953.03 813.07 956.95 812.48 960 812 C963.05 811.52 965.17 811.15 968 810.6 C970.83 810.05 974 809.38 977 808.7 C980 808.02 983 807.23 986 806.5" class="m"/>
<path d="M781 815.4 A4.3 4.3 0 1 1 772.4 815.4 A4.3 4.3 0 1 1 781 815.4 Z" class="k"/>
<path d="M778.3 815.4 A1.6 1.6 0 1 1 775.1 815.4 A1.6 1.6 0 1 1 778.3 815.4 Z" class="m"/>
<path d="M775.8 823 H790 V840 H758.3 M767.5 829 H788 M787 829 V839.5" class="m"/>
<path d="M801.9 834.6 A5.6 5.6 0 1 1 790.7 834.6 A5.6 5.6 0 1 1 801.9 834.6 Z"/>
<path d="M798.2 834.6 A2 2 0 1 1 794.2 834.6 A2 2 0 1 1 798.2 834.6 Z" class="m"/>
<path d="M790 823.3 Q797.5 823 801.3 830.8" class="m"/>
<path d="M266.6 160.8 L1067.6 160.8" class="d"/>
<path d="M266.6 160.8 L266.6 432" class="d"/>
<path d="M1067.6 160.8 L1067.6 347" class="d"/>
<path d="M266.6 160.8 L276.6 158.7 L276.6 162.9 Z" class="a"/>
<path d="M1067.6 160.8 L1057.6 162.9 L1057.6 158.7 Z" class="a"/>
<path d="M357.5 230.4 L613.8 230.4" class="d"/>
<path d="M357.5 230.4 L357.5 420" class="d"/>
<path d="M613.8 230.4 L613.8 331" class="d"/>
<path d="M357.5 230.4 L367.5 228.3 L367.5 232.5 Z" class="a"/>
<path d="M613.8 230.4 L603.8 232.5 L603.8 228.3 Z" class="a"/>
<path d="M626.4 230.4 L859 230.4" class="d"/>
<path d="M626.4 230.4 L626.4 331" class="g"/>
<path d="M859 230.4 L859 331" class="d"/>
<path d="M626.4 230.4 L636.4 228.3 L636.4 232.5 Z" class="a"/>
<path d="M859 230.4 L849 232.5 L849 228.3 Z" class="a"/>
<path d="M863 230.4 L1006.3 230.4" class="d"/>
<path d="M863 230.4 L863 342" class="d"/>
<path d="M1006.3 230.4 L1006.3 346" class="d"/>
<path d="M863 230.4 L873 228.3 L873 232.5 Z" class="a"/>
<path d="M1006.3 230.4 L996.3 232.5 L996.3 228.3 Z" class="a"/>
<path d="M1006.3 230.4 L1067.6 230.4" class="d"/>
<path d="M1006.3 230.4 L1016.3 228.3 L1016.3 232.5 Z" class="a"/>
<path d="M1067.6 230.4 L1057.6 232.5 L1057.6 228.3 Z" class="a"/>
<path d="M142.3 267 L142.3 682.6" class="d"/>
<path d="M142.3 267 L600 267" class="d"/>
<path d="M142.3 682.6 L600 682.6" class="d"/>
<path d="M142.3 267 L144.4 277 L140.2 277 Z" class="a"/>
<path d="M142.3 682.6 L140.2 672.6 L144.4 672.6 Z" class="a"/>
<path d="M208.6 331.2 L208.6 619" class="d"/>
<path d="M208.6 331.2 L614 331.2" class="d"/>
<path d="M208.6 619 L614 619" class="d"/>
<path d="M208.6 331.2 L210.7 341.2 L206.5 341.2 Z" class="a"/>
<path d="M208.6 619 L206.5 609 L210.7 609 Z" class="a"/>
<path d="M1066.7 763 L1066.7 1052.6" class="d"/>
<path d="M993.7 763 L1066.7 763" class="d"/>
<path d="M708.5 1052.6 L1066.7 1052.6" class="d"/>
<path d="M1066.7 763 L1068.8 773 L1064.6 773 Z" class="a"/>
<path d="M1066.7 1052.6 L1064.6 1042.6 L1068.8 1042.6 Z" class="a"/>
</g>
<g class="tx" transform="translate(647.85 142.05) scale(0.95 0.89)"><path transform="translate(0 0)" d="M0 3.3 L2.9 0 V16 M0.4 16 H5.3"/><path transform="translate(7.7 0)" d="M0 0 H9 C6.4 5 4.4 10.5 3.2 16"/><path transform="translate(19.7 0)" d="M5.1 7.7 C2.9 7.7 1.2 6 1.2 3.85 C1.2 1.7 2.9 0 5.1 0 C7.3 0 9 1.7 9 3.85 C9 6 7.3 7.7 5.1 7.7 C2.3 7.7 0 9.5 0 11.85 C0 14.2 2.3 16 5.1 16 C7.9 16 10.2 14.2 10.2 11.85 C10.2 9.5 7.9 7.7 5.1 7.7 Z"/><path transform="translate(32.6 0)" d="M3.8 0 C1.3 0 0 2.2 0 5 V11 C0 13.8 1.3 16 3.8 16 C6.3 16 7.6 13.8 7.6 11 V5 C7.6 2.2 6.3 0 3.8 0 Z"/></g>
<g class="tx" transform="translate(470.85 211.05) scale(0.9 0.89)"><path transform="translate(0 0)" d="M9.3 0 H1.4 L0.7 7.2 C2 6 3.7 5.6 5.2 5.6 C8.2 5.6 10 7.7 10 10.7 C10 13.8 8 16 5 16 C2.5 16 0.8 14.8 0 12.8"/><path transform="translate(12.9 0)" d="M7.9 0 C4 2.6 0.2 6.6 0.2 11 C0.2 14 2.1 16 5.1 16 C8.1 16 10.2 14 10.2 11.2 C10.2 8.4 8.1 6.6 5.4 6.6 C3.1 6.6 1.2 7.9 0.4 9.9"/><path transform="translate(25.9 0)" d="M3.8 0 C1.3 0 0 2.2 0 5 V11 C0 13.8 1.3 16 3.8 16 C6.3 16 7.6 13.8 7.6 11 V5 C7.6 2.2 6.3 0 3.8 0 Z"/></g>
<g class="tx" transform="translate(729.35 211.65) scale(0.95 0.88)"><path transform="translate(0 0)" d="M9.3 0 H1.4 L0.7 7.2 C2 6 3.7 5.6 5.2 5.6 C8.2 5.6 10 7.7 10 10.7 C10 13.8 8 16 5 16 C2.5 16 0.8 14.8 0 12.8"/><path transform="translate(12.9 0)" d="M0 3.3 L2.9 0 V16 M0.4 16 H5.3"/><path transform="translate(20.6 0)" d="M3.8 0 C1.3 0 0 2.2 0 5 V11 C0 13.8 1.3 16 3.8 16 C6.3 16 7.6 13.8 7.6 11 V5 C7.6 2.2 6.3 0 3.8 0 Z"/></g>
<g class="tx" transform="translate(921.45 211.65) scale(0.96 0.88)"><path transform="translate(0 0)" d="M0.6 0 H9.3 L4.6 6.1 C8 6.1 10 8.1 10 10.9 C10 14 8 16 5 16 C2.6 16 0.8 14.9 0 13"/><path transform="translate(12.9 0)" d="M0 3.3 L2.9 0 V16 M0.4 16 H5.3"/><path transform="translate(20.6 0)" d="M3.8 0 C1.3 0 0 2.2 0 5 V11 C0 13.8 1.3 16 3.8 16 C6.3 16 7.6 13.8 7.6 11 V5 C7.6 2.2 6.3 0 3.8 0 Z"/></g>
<g class="tx" transform="translate(1022.75 211.65) scale(0.89 0.88)"><path transform="translate(0 0)" d="M0 3.3 L2.9 0 V16 M0.4 16 H5.3"/><path transform="translate(7.7 0)" d="M0.6 0 H9.3 L4.6 6.1 C8 6.1 10 8.1 10 10.9 C10 14 8 16 5 16 C2.6 16 0.8 14.9 0 13"/><path transform="translate(20.6 0)" d="M9.3 0 H1.4 L0.7 7.2 C2 6 3.7 5.6 5.2 5.6 C8.2 5.6 10 7.7 10 10.7 C10 13.8 8 16 5 16 C2.5 16 0.8 14.8 0 12.8"/></g>
<g class="tx" transform="translate(123.35 490.4) rotate(-90) scale(0.92 0.81)"><path transform="translate(0 0)" d="M5.1 7.7 C2.9 7.7 1.2 6 1.2 3.85 C1.2 1.7 2.9 0 5.1 0 C7.3 0 9 1.7 9 3.85 C9 6 7.3 7.7 5.1 7.7 C2.3 7.7 0 9.5 0 11.85 C0 14.2 2.3 16 5.1 16 C7.9 16 10.2 14.2 10.2 11.85 C10.2 9.5 7.9 7.7 5.1 7.7 Z"/><path transform="translate(12.9 0)" d="M5.1 7.7 C2.9 7.7 1.2 6 1.2 3.85 C1.2 1.7 2.9 0 5.1 0 C7.3 0 9 1.7 9 3.85 C9 6 7.3 7.7 5.1 7.7 C2.3 7.7 0 9.5 0 11.85 C0 14.2 2.3 16 5.1 16 C7.9 16 10.2 14.2 10.2 11.85 C10.2 9.5 7.9 7.7 5.1 7.7 Z"/><path transform="translate(25.8 0)" d="M3.8 0 C1.3 0 0 2.2 0 5 V11 C0 13.8 1.3 16 3.8 16 C6.3 16 7.6 13.8 7.6 11 V5 C7.6 2.2 6.3 0 3.8 0 Z"/></g>
<g class="tx" transform="translate(190.35 489.65) rotate(-90) scale(0.95 0.87)"><path transform="translate(0 0)" d="M7.9 0 C4 2.6 0.2 6.6 0.2 11 C0.2 14 2.1 16 5.1 16 C8.1 16 10.2 14 10.2 11.2 C10.2 8.4 8.1 6.6 5.4 6.6 C3.1 6.6 1.2 7.9 0.4 9.9"/><path transform="translate(13 0)" d="M3.8 0 C1.3 0 0 2.2 0 5 V11 C0 13.8 1.3 16 3.8 16 C6.3 16 7.6 13.8 7.6 11 V5 C7.6 2.2 6.3 0 3.8 0 Z"/><path transform="translate(23.4 0)" d="M3.8 0 C1.3 0 0 2.2 0 5 V11 C0 13.8 1.3 16 3.8 16 C6.3 16 7.6 13.8 7.6 11 V5 C7.6 2.2 6.3 0 3.8 0 Z"/></g>
<g class="tx" transform="translate(1047.25 948.35) rotate(-90) scale(0.97 0.91)"><path transform="translate(0 0)" d="M7.9 0 C4 2.6 0.2 6.6 0.2 11 C0.2 14 2.1 16 5.1 16 C8.1 16 10.2 14 10.2 11.2 C10.2 8.4 8.1 6.6 5.4 6.6 C3.1 6.6 1.2 7.9 0.4 9.9"/><path transform="translate(13 0)" d="M3.8 0 C1.3 0 0 2.2 0 5 V11 C0 13.8 1.3 16 3.8 16 C6.3 16 7.6 13.8 7.6 11 V5 C7.6 2.2 6.3 0 3.8 0 Z"/><path transform="translate(23.4 0)" d="M3.8 0 C1.3 0 0 2.2 0 5 V11 C0 13.8 1.3 16 3.8 16 C6.3 16 7.6 13.8 7.6 11 V5 C7.6 2.2 6.3 0 3.8 0 Z"/><path transform="translate(33.8 0)" d="M0 9.2 H9.2"/><path transform="translate(45.5 0)" d="M0 3.3 L2.9 0 V16 M0.4 16 H5.3"/><path transform="translate(53.2 0)" d="M3.8 0 C1.3 0 0 2.2 0 5 V11 C0 13.8 1.3 16 3.8 16 C6.3 16 7.6 13.8 7.6 11 V5 C7.6 2.2 6.3 0 3.8 0 Z"/><path transform="translate(63.6 0)" d="M3.8 0 C1.3 0 0 2.2 0 5 V11 C0 13.8 1.3 16 3.8 16 C6.3 16 7.6 13.8 7.6 11 V5 C7.6 2.2 6.3 0 3.8 0 Z"/><path transform="translate(74 0)" d="M3.8 0 C1.3 0 0 2.2 0 5 V11 C0 13.8 1.3 16 3.8 16 C6.3 16 7.6 13.8 7.6 11 V5 C7.6 2.2 6.3 0 3.8 0 Z"/></g>
</svg>
</body></html>
